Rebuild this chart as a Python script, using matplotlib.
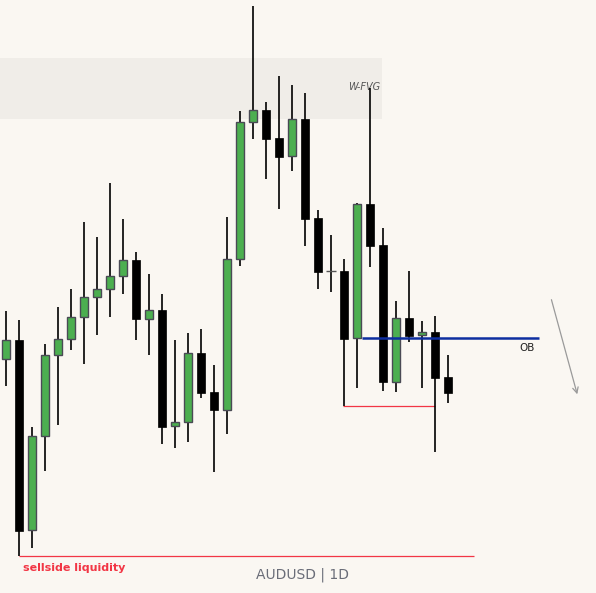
import matplotlib
matplotlib.use('Agg')
import matplotlib.pyplot as plt

# AUDUSD daily candles (open, high, low, close)
opens = [0.66205, 0.66300, 0.65350, 0.65820, 0.66225, 0.66305, 0.66415, 0.66515, 0.66555, 0.66620,
         0.66700, 0.66405, 0.66450, 0.65870, 0.65890, 0.66235, 0.66040, 0.65950, 0.66705, 0.67390,
         0.67450, 0.67310, 0.67220, 0.67405, 0.66910, 0.66645, 0.66645, 0.66310, 0.66980, 0.66775,
         0.66090, 0.66410, 0.66325, 0.66340, 0.66115]
highs = [0.66445, 0.66400, 0.65865, 0.66280, 0.66465, 0.66555, 0.66890, 0.66815, 0.67085, 0.66905,
         0.66740, 0.66630, 0.66530, 0.66300, 0.66335, 0.66355, 0.66175, 0.66915, 0.67445, 0.67970,
         0.67490, 0.67620, 0.67575, 0.67535, 0.66950, 0.66825, 0.66705, 0.66985, 0.67560, 0.66860,
         0.66495, 0.66645, 0.66395, 0.66420, 0.66225]
lows = [0.66070, 0.65220, 0.65260, 0.65645, 0.65875, 0.66250, 0.66180, 0.66325, 0.66415, 0.66530,
        0.66300, 0.66225, 0.65780, 0.65760, 0.65790, 0.66010, 0.65640, 0.65830, 0.66670, 0.67305,
        0.67105, 0.66955, 0.67145, 0.66770, 0.66555, 0.66540, 0.65970, 0.66060, 0.66665, 0.66045,
        0.66040, 0.66290, 0.66060, 0.65740, 0.65985]
closes = [0.66300, 0.65345, 0.65820, 0.66225, 0.66305, 0.66415, 0.66515, 0.66555, 0.66620, 0.66700,
          0.66405, 0.66450, 0.65865, 0.65890, 0.66235, 0.66035, 0.65950, 0.66705, 0.67390, 0.67450,
          0.67305, 0.67215, 0.67405, 0.66905, 0.66640, 0.66645, 0.66305, 0.66980, 0.66770, 0.66090,
          0.66410, 0.66320, 0.66340, 0.66110, 0.66035]

# annotation levels
fvg_low, fvg_high = 0.67405, 0.67710
ob_level = 0.66312
swing_low_level = 0.65970
sellside_level = 0.65222

BG = '#faf7f2'
GREEN = '#4caf50'
EDGE = '#4a4a55'
RED = '#f23645'

fig = plt.figure(figsize=(5.96, 5.93), dpi=100, facecolor=BG)
ax = fig.add_axes([0, 0, 1, 1])
ax.set_facecolor(BG)

# W-FVG zone
ax.axhspan(fvg_low, fvg_high, xmin=0, xmax=(28.92 + 0.4615) / 45.846,
           color='#f0ede8', lw=0, zorder=0)
ax.text(28.77, 0.67565, 'W-FVG', ha='right', va='center', fontsize=7,
        style='italic', color='#555555', zorder=1)

# candles
for i, (o, h, l, c) in enumerate(zip(opens, highs, lows, closes)):
    ax.vlines(i, l, h, color='black', lw=1.2, zorder=2)
    if c > o:
        ax.bar(i, c - o, bottom=o, width=0.68, color=GREEN, edgecolor=EDGE,
               linewidth=1.0, zorder=3)
    elif c < o:
        ax.bar(i, o - c, bottom=c, width=0.68, color='black', edgecolor='black',
               linewidth=0.5, zorder=3)
    else:
        ax.hlines(o, i - 0.36, i + 0.36, color='#555555', lw=1.0, zorder=3)

# order block line
ax.hlines(ob_level, 27.36, 41.02, color='#0d2ea0', lw=1.8, zorder=4)
ax.text(40.1, ob_level - 0.00025, 'OB', ha='center', va='top', fontsize=7.5,
        color='#222222')

# swing low line
ax.hlines(swing_low_level, 25.95, 33.0, color=RED, lw=0.9, zorder=1)

# sellside liquidity
ax.hlines(sellside_level, 1.0, 36.0, color=RED, lw=0.9, zorder=1)
ax.text(1.3, sellside_level - 0.00035, 'sellside liquidity', ha='left', va='top',
        fontsize=8, fontweight='bold', color=RED)

# projected move
ax.annotate('', xy=(44.0, 0.66015), xytext=(41.9, 0.66515),
            arrowprops=dict(arrowstyle='->', color='#9a9a9a', lw=0.9))

fig.text(0.507, 0.03, 'AUDUSD | 1D', ha='center', va='center', fontsize=10,
         color='#6a6d78')

ax.set_xlim(-0.4615, 45.385)
ax.set_ylim(0.65035, 0.68)
ax.axis('off')

plt.savefig('out.png', dpi=100, facecolor=BG)
plt.close(fig)
